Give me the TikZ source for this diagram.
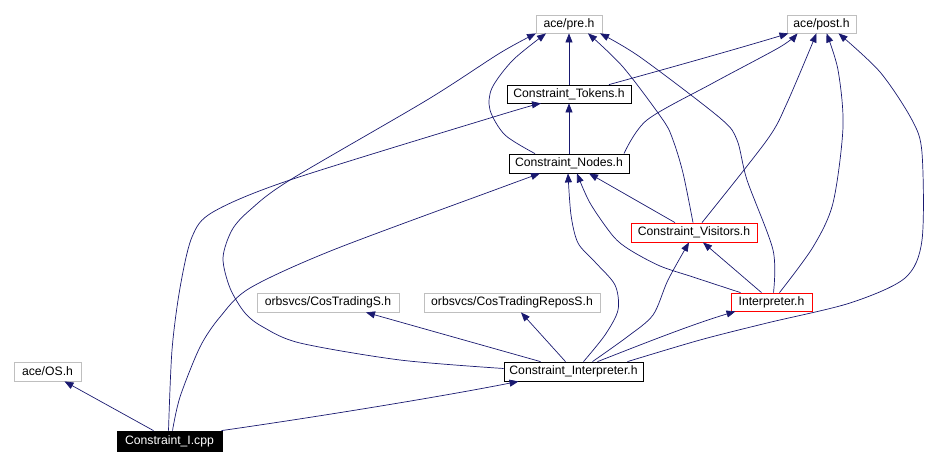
\documentclass[tikz,border=0pt]{standalone}
\usepackage{fontspec}
\setmainfont{Liberation Sans}
\usetikzlibrary{arrows.meta}
\definecolor{edgecol}{RGB}{25,25,112}
\definecolor{graybd}{RGB}{191,191,191}
\begin{document}
\begin{tikzpicture}[x=1pt,y=-1pt,
  box/.style={draw, rectangle, inner sep=0pt, line width=0.8pt, fill=white, font=\fontsize{12.2}{14}\selectfont},
  gbox/.style={box, draw=graybd},
  bbox/.style={box, draw=black},
  rbox/.style={box, draw=red},
  kbox/.style={box, draw=black, fill=black, text=white},
  edge/.style={draw=edgecol, line width=0.7pt, -{Triangle[length=9pt,width=7pt]}, fill=none},
]
\useasboundingbox (0,0) rectangle (949,465);
\node[gbox, minimum width=66pt, minimum height=18pt] (pre) at (569,24) {ace/pre.h};
\node[gbox, minimum width=69pt, minimum height=18pt] (post) at (821.5,24) {ace/post.h};
\node[bbox, minimum width=124pt, minimum height=18pt] (tokens) at (569,94) {Constraint\_Tokens.h};
\node[bbox, minimum width=120pt, minimum height=19pt] (nodes) at (569,163.5) {Constraint\_Nodes.h};
\node[rbox, minimum width=126pt, minimum height=19pt] (visitors) at (694,232.5) {Constraint\_Visitors.h};
\node[rbox, minimum width=81pt, minimum height=18pt] (interp) at (771.5,302) {Interpreter.h};
\node[gbox, minimum width=176pt, minimum height=19pt] (repos) at (512,302.5) {orbsvcs/CosTradingReposS.h};
\node[gbox, minimum width=142pt, minimum height=19pt] (cos) at (328,302.5) {orbsvcs/CosTradingS.h};
\node[bbox, minimum width=139pt, minimum height=19pt] (ci) at (573.5,371.5) {Constraint\_Interpreter.h};
\node[gbox, minimum width=67pt, minimum height=19pt] (os) at (47.5,371.5) {ace/OS.h};
\node[kbox, minimum width=105pt, minimum height=20pt] (cpp) at (169.5,441) {Constraint\_I.cpp};

% Constraint_I.cpp
\draw[edge] ([xshift=-16pt]cpp.north) -- ([xshift=17pt]os.south);
\draw[edge] ([xshift=52pt]cpp.north) .. controls (330,415) and (450,395) .. ([xshift=-55pt]ci.south);
\draw[edge] plot[smooth] coordinates {([xshift=-1pt]cpp.north) (172,350) (180,288) (192,237) (213,212) (290,180) (500,115) ([xshift=-28pt]tokens.south)};
\draw[edge] plot[smooth] coordinates {([xshift=3pt]cpp.north) (180,397) (200,347) (220,317) (250,288) (333,250) (500,188) ([xshift=-29pt]nodes.south)};

% to ace/pre.h
\draw[edge] plot[smooth] coordinates {([yshift=3pt]ci.west) (400,360) (300,343) (263,327) (245,313) (230,288) (223,258) (232,230) (250,210) (290,180) (427,100) (500,53) ([xshift=-33pt]pre.south)};
\draw[edge] plot[smooth] coordinates {([xshift=-34pt]nodes.north) (505,135) (490,110) (492,88) (513,60) ([xshift=-23pt]pre.south)};
\draw[edge] (tokens.north) -- (pre.south);
\draw[edge] plot[smooth] coordinates {([xshift=-1pt]visitors.north) (683,173) (673,140) (663,120) (623,67) ([xshift=19pt]pre.south)};
\draw[edge] plot[smooth] coordinates {([xshift=2pt]interp.north) (773,250) (747,180) (737,140) (720,118) (640,57) ([xshift=31pt]pre.south)};

% to ace/post.h
\draw[edge] ([xshift=40pt]tokens.north) .. controls (680,65) and (740,48) .. ([xshift=-33pt]post.south);
\draw[edge] plot[smooth] coordinates {([xshift=55pt]nodes.north) (647,120) (713,83) (780,47) ([xshift=-24pt]post.south)};
\draw[edge] plot[smooth] coordinates {([xshift=8pt]visitors.north) (767,140) (787,103) ([xshift=-5pt]post.south)};
\draw[edge] plot[smooth] coordinates {([xshift=8pt]interp.north) (813,247) (833,203) (843,127) (838,70) ([xshift=5pt]post.south)};
\draw[edge] plot[smooth] coordinates {([xshift=54pt]ci.north) (700,340) (767,323) (850,303) (905,278) (922,240) (922,153) (912,120) (880,72) ([xshift=17pt]post.south)};

% to Constraint_Tokens.h
\draw[edge] (nodes.north) -- (tokens.south);

% to Constraint_Nodes.h
\draw[edge] plot[smooth] coordinates {([xshift=10pt]ci.north) (605,335) (618,310) (615,285) (595,262) (578,243) (571,215) ([xshift=-1pt]nodes.south)};
\draw[edge] plot[smooth] coordinates {([xshift=-31pt]interp.north) (693,277) (660,266) (630,250) (613,236) (590,203) ([xshift=8pt]nodes.south)};
\draw[edge] ([xshift=-19pt]visitors.north) -- ([xshift=20pt]nodes.south);

% to Constraint_Visitors.h
\draw[edge] ([xshift=-10pt]interp.north) -- ([xshift=9pt]visitors.south);
\draw[edge] plot[smooth] coordinates {([xshift=19pt]ci.north) (627,337) (653,315) (668,280) ([xshift=-5pt]visitors.south)};

% to Interpreter.h
\draw[edge] ([xshift=24pt]ci.north) .. controls (640,345) and (690,325) .. ([xshift=-36pt]interp.south);

% to orbsvcs
\draw[edge] ([xshift=-8pt]ci.north) -- ([xshift=9pt]repos.south);
\draw[edge] ([xshift=-33pt]ci.north) -- ([xshift=38pt]cos.south);
\end{tikzpicture}
\end{document}
